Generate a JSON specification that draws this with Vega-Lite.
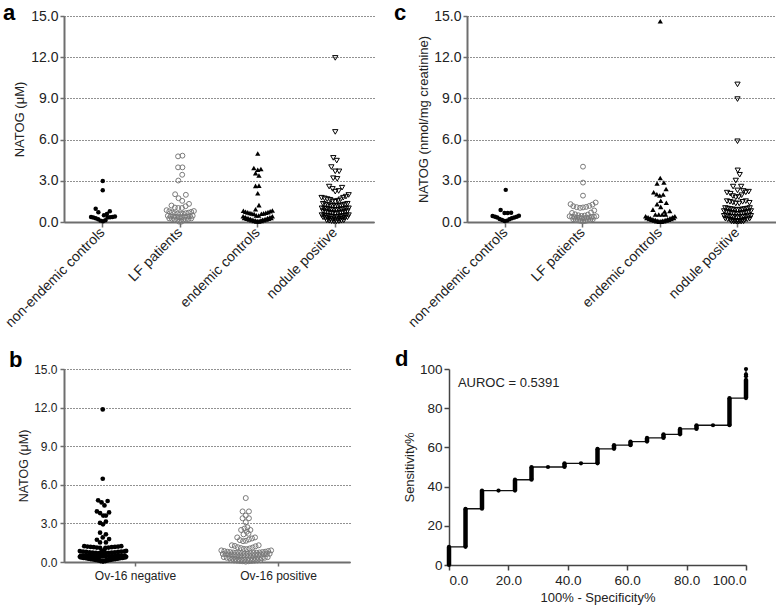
{
"$schema":"https://vega.github.io/schema/vega-lite/v6.json",
"padding":{"left":2,"top":2,"right":0,"bottom":0},
"config":{"font":"Liberation Sans","view":{"stroke":null},"title":{"font":"Liberation Sans","fontSize":22,"fontWeight":"bold","color":"black","anchor":"start","frame":"group","baseline":"alphabetic"}},
"datasets":{
"a1":[{"v":2.98,"s":0},{"v":2.31,"s":0},{"v":0.96,"s":-2.9},{"v":0.71,"s":-1.8},{"v":0.49,"s":0.5},{"v":0.59,"s":1.7},{"v":0.79,"s":2.9},{"v":0.37,"s":-4.8},{"v":0.32,"s":-3.9},{"v":0.27,"s":-2.9},{"v":0.2,"s":-1.9},{"v":0.1,"s":-0.9},{"v":0.05,"s":0.1},{"v":0.12,"s":1.1},{"v":0.32,"s":2},{"v":0.34,"s":3},{"v":0.37,"s":4},{"v":0.4,"s":5}],
"a2":[{"v":4.78,"s":-0.9},{"v":4.83,"s":0.9},{"v":3.98,"s":-0.9},{"v":3.98,"s":0.9},{"v":3.44,"s":0.8},{"v":3.02,"s":-0.8},{"v":2.02,"s":-2.1},{"v":1.73,"s":-0.7},{"v":1.54,"s":0.8},{"v":1.98,"s":2.3},{"v":1.32,"s":3.6},{"v":1.2,"s":-3.6},{"v":1.05,"s":-2.2},{"v":1.02,"s":-0.8},{"v":1.02,"s":0.7},{"v":1.15,"s":2.2},{"v":0.86,"s":-5.6},{"v":0.78,"s":-4.5},{"v":0.7,"s":-3.4},{"v":0.64,"s":-2.3},{"v":0.6,"s":-1.1},{"v":0.58,"s":0},{"v":0.6,"s":1.1},{"v":0.64,"s":2.3},{"v":0.68,"s":3.4},{"v":0.74,"s":4.5},{"v":0.8,"s":5.6},{"v":0.45,"s":-5.1},{"v":0.42,"s":-4},{"v":0.4,"s":-2.9},{"v":0.38,"s":-1.8},{"v":0.36,"s":-0.6},{"v":0.36,"s":0.6},{"v":0.38,"s":1.8},{"v":0.4,"s":2.9},{"v":0.42,"s":4},{"v":0.45,"s":5.1},{"v":0.26,"s":-4.5},{"v":0.22,"s":-3.4},{"v":0.18,"s":-2.3},{"v":0.15,"s":-1.2},{"v":0.12,"s":0},{"v":0.15,"s":1.2},{"v":0.18,"s":2.3},{"v":0.22,"s":3.4},{"v":0.26,"s":4.5},{"v":0.03,"s":-0.5},{"v":0.03,"s":0.5}],
"a3":[{"v":4.99,"s":0},{"v":3.93,"s":-1.6},{"v":3.8,"s":0},{"v":3.86,"s":1.3},{"v":3.56,"s":-0.9},{"v":3.39,"s":0.5},{"v":2.63,"s":-0.9},{"v":2.65,"s":0.5},{"v":2.09,"s":0},{"v":1.23,"s":0.5},{"v":0.93,"s":-0.9},{"v":0.82,"s":-5.9},{"v":0.75,"s":-5},{"v":0.7,"s":-4.1},{"v":0.66,"s":-3.2},{"v":0.62,"s":-2.4},{"v":0.58,"s":-1.5},{"v":0.6,"s":1.5},{"v":0.63,"s":2.4},{"v":0.67,"s":3.3},{"v":0.72,"s":4.2},{"v":0.78,"s":5.1},{"v":0.84,"s":6},{"v":0.48,"s":-0.6},{"v":0.47,"s":0.4},{"v":0.42,"s":-6},{"v":0.35,"s":-5},{"v":0.28,"s":-4},{"v":0.22,"s":-3},{"v":0.16,"s":-2},{"v":0.11,"s":-1},{"v":0.07,"s":0},{"v":0.11,"s":1},{"v":0.16,"s":2},{"v":0.22,"s":3},{"v":0.28,"s":4},{"v":0.35,"s":5},{"v":0.42,"s":6},{"v":0.3,"s":-5.5},{"v":0.24,"s":-4.5},{"v":0.18,"s":-3.5},{"v":0.13,"s":-2.5},{"v":0.08,"s":-1.5},{"v":0.04,"s":-0.5},{"v":0.04,"s":0.5},{"v":0.08,"s":1.5},{"v":0.13,"s":2.5},{"v":0.18,"s":3.5},{"v":0.24,"s":4.5},{"v":0.3,"s":5.5}],
"a4":[{"v":11.95,"s":0},{"v":6.56,"s":0},{"v":4.67,"s":-0.8},{"v":4.47,"s":0.6},{"v":4.0,"s":-1.6},{"v":3.69,"s":0},{"v":3.69,"s":1.6},{"v":3.19,"s":-0.8},{"v":3.14,"s":0.8},{"v":2.58,"s":-2.5},{"v":2.41,"s":-1.1},{"v":2.21,"s":0},{"v":2.26,"s":1.4},{"v":2.5,"s":2.8},{"v":1.77,"s":-5.6},{"v":1.72,"s":-4.4},{"v":1.67,"s":-3.3},{"v":1.62,"s":-2.1},{"v":1.52,"s":-1.1},{"v":1.47,"s":0},{"v":1.55,"s":1.1},{"v":1.65,"s":2.2},{"v":1.77,"s":3.3},{"v":1.85,"s":4.4},{"v":1.97,"s":5.5},{"v":1.33,"s":-5},{"v":1.28,"s":-4},{"v":1.24,"s":-3},{"v":1.2,"s":-2},{"v":1.17,"s":-1},{"v":1.15,"s":0},{"v":1.17,"s":1},{"v":1.2,"s":2},{"v":1.24,"s":3},{"v":1.28,"s":4},{"v":1.33,"s":5},{"v":1.0,"s":-5.5},{"v":0.97,"s":-4.5},{"v":0.94,"s":-3.5},{"v":0.92,"s":-2.5},{"v":0.9,"s":-1.5},{"v":0.88,"s":-0.5},{"v":0.88,"s":0.5},{"v":0.9,"s":1.5},{"v":0.92,"s":2.5},{"v":0.94,"s":3.5},{"v":0.97,"s":4.5},{"v":1.0,"s":5.5},{"v":0.8,"s":-5},{"v":0.76,"s":-4},{"v":0.72,"s":-3},{"v":0.68,"s":-2},{"v":0.65,"s":-1},{"v":0.62,"s":0},{"v":0.65,"s":1},{"v":0.68,"s":2},{"v":0.72,"s":3},{"v":0.76,"s":4},{"v":0.8,"s":5},{"v":0.5,"s":-5.5},{"v":0.47,"s":-4.5},{"v":0.44,"s":-3.5},{"v":0.42,"s":-2.5},{"v":0.4,"s":-1.5},{"v":0.38,"s":-0.5},{"v":0.38,"s":0.5},{"v":0.4,"s":1.5},{"v":0.42,"s":2.5},{"v":0.44,"s":3.5},{"v":0.47,"s":4.5},{"v":0.5,"s":5.5},{"v":0.34,"s":-5},{"v":0.3,"s":-4},{"v":0.26,"s":-3},{"v":0.23,"s":-2},{"v":0.2,"s":-1},{"v":0.18,"s":0},{"v":0.2,"s":1},{"v":0.23,"s":2},{"v":0.26,"s":3},{"v":0.3,"s":4},{"v":0.34,"s":5},{"v":0.12,"s":-3.5},{"v":0.09,"s":-2.5},{"v":0.06,"s":-1.5},{"v":0.04,"s":-0.5},{"v":0.04,"s":0.5},{"v":0.06,"s":1.5},{"v":0.09,"s":2.5},{"v":0.12,"s":3.5}],
"c1":[{"v":2.34,"s":0},{"v":0.88,"s":-2.1},{"v":0.66,"s":-0.5},{"v":0.66,"s":0.8},{"v":0.68,"s":2.2},{"v":0.44,"s":-5.4},{"v":0.39,"s":-4.4},{"v":0.32,"s":-3.5},{"v":0.22,"s":-2.5},{"v":0.15,"s":-1.5},{"v":0.07,"s":-0.5},{"v":0.1,"s":0.5},{"v":0.2,"s":1.5},{"v":0.27,"s":2.5},{"v":0.32,"s":3.5},{"v":0.39,"s":4.5},{"v":0.46,"s":5.4}],
"c2":[{"v":4.03,"s":0},{"v":2.87,"s":0},{"v":1.92,"s":0},{"v":1.3,"s":-5.1},{"v":1.15,"s":-4},{"v":1.08,"s":-2.6},{"v":1.03,"s":-1.2},{"v":1.06,"s":0},{"v":1.1,"s":1.3},{"v":1.17,"s":2.6},{"v":1.27,"s":3.9},{"v":1.42,"s":5.2},{"v":0.66,"s":-4.5},{"v":0.56,"s":-3.2},{"v":0.49,"s":-1.9},{"v":0.44,"s":-0.6},{"v":0.47,"s":0.7},{"v":0.54,"s":2},{"v":0.69,"s":3.3},{"v":0.84,"s":4.6},{"v":0.42,"s":-5.5},{"v":0.38,"s":-4.5},{"v":0.35,"s":-3.5},{"v":0.32,"s":-2.5},{"v":0.3,"s":-1.5},{"v":0.28,"s":-0.5},{"v":0.28,"s":0.5},{"v":0.3,"s":1.5},{"v":0.32,"s":2.5},{"v":0.35,"s":3.5},{"v":0.38,"s":4.5},{"v":0.42,"s":5.5},{"v":0.2,"s":-4},{"v":0.16,"s":-3},{"v":0.12,"s":-2},{"v":0.08,"s":-1},{"v":0.05,"s":0},{"v":0.08,"s":1},{"v":0.12,"s":2},{"v":0.16,"s":3},{"v":0.2,"s":4}],
"c3":[{"v":14.62,"s":0},{"v":3.2,"s":0},{"v":2.8,"s":-1.3},{"v":2.88,"s":1.5},{"v":2.17,"s":-2.7},{"v":2.02,"s":-1.4},{"v":1.93,"s":-0.2},{"v":2.0,"s":1.2},{"v":2.4,"s":2.4},{"v":1.55,"s":0.2},{"v":1.4,"s":2.5},{"v":1.3,"s":-1.3},{"v":1.1,"s":0.2},{"v":0.9,"s":-3},{"v":0.76,"s":1.8},{"v":0.8,"s":3.9},{"v":0.55,"s":-2},{"v":0.55,"s":-0.6},{"v":0.55,"s":0.8},{"v":0.55,"s":2.2},{"v":0.42,"s":-6},{"v":0.34,"s":-5},{"v":0.27,"s":-4},{"v":0.2,"s":-3},{"v":0.14,"s":-2},{"v":0.09,"s":-1},{"v":0.06,"s":0},{"v":0.09,"s":1},{"v":0.14,"s":2},{"v":0.2,"s":3},{"v":0.27,"s":4},{"v":0.34,"s":5},{"v":0.42,"s":6},{"v":0.3,"s":-5.5},{"v":0.23,"s":-4.5},{"v":0.16,"s":-3.5},{"v":0.11,"s":-2.5},{"v":0.06,"s":-1.5},{"v":0.03,"s":-0.5},{"v":0.03,"s":0.5},{"v":0.06,"s":1.5},{"v":0.11,"s":2.5},{"v":0.16,"s":3.5},{"v":0.23,"s":4.5},{"v":0.3,"s":5.5}],
"c4":[{"v":10.02,"s":0},{"v":8.95,"s":0},{"v":5.88,"s":0},{"v":3.76,"s":0.1},{"v":3.44,"s":0.9},{"v":3.02,"s":-0.7},{"v":2.58,"s":-1.8},{"v":2.58,"s":1.5},{"v":2.3,"s":0},{"v":2.14,"s":-4.3},{"v":2.06,"s":-2.9},{"v":1.89,"s":-1.9},{"v":1.8,"s":-0.7},{"v":1.82,"s":0.5},{"v":1.95,"s":1.7},{"v":2.26,"s":2.4},{"v":2.16,"s":3.4},{"v":2.21,"s":4.6},{"v":1.52,"s":-4.3},{"v":1.47,"s":-3.1},{"v":1.42,"s":-1.9},{"v":1.35,"s":-0.7},{"v":1.35,"s":0.7},{"v":1.47,"s":2.1},{"v":1.52,"s":3.4},{"v":1.4,"s":4.9},{"v":1.02,"s":-5},{"v":0.98,"s":-4},{"v":0.95,"s":-3},{"v":0.92,"s":-2},{"v":0.9,"s":-1},{"v":0.88,"s":0},{"v":0.9,"s":1},{"v":0.92,"s":2},{"v":0.95,"s":3},{"v":0.98,"s":4},{"v":1.02,"s":5},{"v":0.8,"s":-5.5},{"v":0.76,"s":-4.5},{"v":0.72,"s":-3.5},{"v":0.68,"s":-2.5},{"v":0.64,"s":-1.5},{"v":0.6,"s":-0.5},{"v":0.6,"s":0.5},{"v":0.64,"s":1.5},{"v":0.68,"s":2.5},{"v":0.72,"s":3.5},{"v":0.76,"s":4.5},{"v":0.8,"s":5.5},{"v":0.45,"s":-5.5},{"v":0.42,"s":-4.5},{"v":0.4,"s":-3.5},{"v":0.38,"s":-2.5},{"v":0.36,"s":-1.5},{"v":0.35,"s":-0.5},{"v":0.35,"s":0.5},{"v":0.36,"s":1.5},{"v":0.38,"s":2.5},{"v":0.4,"s":3.5},{"v":0.42,"s":4.5},{"v":0.45,"s":5.5},{"v":0.25,"s":-5},{"v":0.2,"s":-4},{"v":0.16,"s":-3},{"v":0.12,"s":-2},{"v":0.09,"s":-1},{"v":0.07,"s":0},{"v":0.09,"s":1},{"v":0.12,"s":2},{"v":0.16,"s":3},{"v":0.2,"s":4},{"v":0.25,"s":5},{"v":0.05,"s":-2.5},{"v":0.03,"s":-1.5},{"v":0.02,"s":-0.5},{"v":0.02,"s":0.5},{"v":0.03,"s":1.5},{"v":0.05,"s":2.5}],
"bn":[{"v":11.86,"s":0},{"v":6.47,"s":0},{"v":4.79,"s":-1.9},{"v":4.63,"s":-0.5},{"v":4.4,"s":0.7},{"v":4.74,"s":2},{"v":3.93,"s":-2.4},{"v":3.8,"s":-1.1},{"v":3.61,"s":0.2},{"v":3.61,"s":1.3},{"v":3.85,"s":2.6},{"v":3.04,"s":-1.1},{"v":2.93,"s":0.1},{"v":3.14,"s":1.3},{"v":2.28,"s":-1.1},{"v":2.15,"s":1.3},{"v":1.73,"s":-2.4},{"v":1.52,"s":-1.1},{"v":1.91,"s":0},{"v":1.52,"s":1.3},{"v":1.78,"s":2.6},{"v":1.23,"s":-7.6},{"v":1.2,"s":-6.3},{"v":1.17,"s":-5},{"v":1.15,"s":-3.7},{"v":1.12,"s":-2.4},{"v":1.1,"s":-1.1},{"v":1.1,"s":1.1},{"v":1.12,"s":2.4},{"v":1.15,"s":3.7},{"v":1.17,"s":5},{"v":1.2,"s":6.3},{"v":1.23,"s":7.6},{"v":0.88,"s":-0.4},{"v":0.95,"s":0.7},{"v":0.85,"s":-9.4},{"v":0.8,"s":-8.1},{"v":0.78,"s":-6.8},{"v":0.76,"s":-5.4},{"v":0.74,"s":-4.1},{"v":0.72,"s":-2.8},{"v":0.7,"s":-1.5},{"v":0.68,"s":-0.2},{"v":0.7,"s":1.1},{"v":0.72,"s":2.4},{"v":0.74,"s":3.7},{"v":0.76,"s":5},{"v":0.78,"s":6.3},{"v":0.8,"s":7.6},{"v":0.82,"s":8.9},{"v":0.86,"s":9.6},{"v":0.5,"s":-9},{"v":0.5,"s":-7.7},{"v":0.49,"s":-6.4},{"v":0.48,"s":-5.1},{"v":0.47,"s":-3.8},{"v":0.46,"s":-2.5},{"v":0.45,"s":-1.2},{"v":0.45,"s":0},{"v":0.45,"s":1.2},{"v":0.46,"s":2.5},{"v":0.47,"s":3.8},{"v":0.48,"s":5.1},{"v":0.49,"s":6.4},{"v":0.5,"s":7.7},{"v":0.5,"s":9},{"v":0.4,"s":-9.4},{"v":0.37,"s":-8.4},{"v":0.34,"s":-7.4},{"v":0.31,"s":-6.4},{"v":0.28,"s":-5.4},{"v":0.25,"s":-4.4},{"v":0.22,"s":-3.4},{"v":0.18,"s":-2.4},{"v":0.14,"s":-1.4},{"v":0.1,"s":-0.4},{"v":0.1,"s":0.6},{"v":0.14,"s":1.6},{"v":0.18,"s":2.6},{"v":0.22,"s":3.6},{"v":0.25,"s":4.6},{"v":0.28,"s":5.6},{"v":0.31,"s":6.6},{"v":0.34,"s":7.6},{"v":0.37,"s":8.6},{"v":0.4,"s":9.6},{"v":0.35,"s":-8.9},{"v":0.32,"s":-7.9},{"v":0.29,"s":-6.9},{"v":0.26,"s":-5.9},{"v":0.23,"s":-4.9},{"v":0.2,"s":-3.9},{"v":0.16,"s":-2.9},{"v":0.12,"s":-1.9},{"v":0.07,"s":-0.9},{"v":0.03,"s":0.1},{"v":0.07,"s":1.1},{"v":0.12,"s":2.1},{"v":0.16,"s":3.1},{"v":0.2,"s":4.1},{"v":0.23,"s":5.1},{"v":0.26,"s":6.1},{"v":0.29,"s":7.1},{"v":0.32,"s":8.1},{"v":0.35,"s":9.1}],
"bp":[{"v":4.97,"s":0},{"v":3.93,"s":-1.3},{"v":3.93,"s":1.3},{"v":3.61,"s":0},{"v":3.4,"s":-1.3},{"v":3.4,"s":1.3},{"v":3.09,"s":0},{"v":2.49,"s":-1.9},{"v":2.6,"s":-0.5},{"v":2.7,"s":0.7},{"v":2.49,"s":1.9},{"v":2.15,"s":-0.9},{"v":2.35,"s":0.4},{"v":2.2,"s":1.1},{"v":1.91,"s":-3.5},{"v":1.7,"s":-2.4},{"v":1.62,"s":-1.1},{"v":1.65,"s":0.1},{"v":1.75,"s":1.3},{"v":1.83,"s":2.6},{"v":1.91,"s":3.8},{"v":1.3,"s":-5.7},{"v":1.25,"s":-4.5},{"v":1.15,"s":-3.3},{"v":1.08,"s":-2},{"v":1.02,"s":-0.8},{"v":1.0,"s":0.4},{"v":1.05,"s":1.6},{"v":1.12,"s":2.8},{"v":1.22,"s":4},{"v":1.3,"s":5.3},{"v":0.9,"s":-10},{"v":0.85,"s":-8.8},{"v":0.8,"s":-7.6},{"v":0.77,"s":-6.4},{"v":0.74,"s":-5.2},{"v":0.72,"s":-4},{"v":0.7,"s":-2.8},{"v":0.68,"s":-1.6},{"v":0.66,"s":-0.4},{"v":0.66,"s":0.8},{"v":0.68,"s":2},{"v":0.7,"s":3.2},{"v":0.72,"s":4.4},{"v":0.74,"s":5.6},{"v":0.77,"s":6.8},{"v":0.8,"s":8},{"v":0.85,"s":9.2},{"v":0.9,"s":10.4},{"v":0.62,"s":-9.4},{"v":0.6,"s":-8.2},{"v":0.58,"s":-7},{"v":0.56,"s":-5.8},{"v":0.54,"s":-4.6},{"v":0.52,"s":-3.4},{"v":0.5,"s":-2.2},{"v":0.5,"s":-1},{"v":0.5,"s":0.2},{"v":0.5,"s":1.4},{"v":0.52,"s":2.6},{"v":0.54,"s":3.8},{"v":0.56,"s":5},{"v":0.58,"s":6.2},{"v":0.6,"s":7.4},{"v":0.62,"s":8.6},{"v":0.64,"s":9.8},{"v":0.38,"s":-9},{"v":0.33,"s":-7.8},{"v":0.3,"s":-6.6},{"v":0.27,"s":-5.4},{"v":0.25,"s":-4.2},{"v":0.22,"s":-3},{"v":0.2,"s":-1.8},{"v":0.18,"s":-0.6},{"v":0.18,"s":0.6},{"v":0.2,"s":1.8},{"v":0.22,"s":3},{"v":0.25,"s":4.2},{"v":0.27,"s":5.4},{"v":0.3,"s":6.6},{"v":0.33,"s":7.8},{"v":0.38,"s":9},{"v":0.14,"s":-6},{"v":0.12,"s":-4.8},{"v":0.1,"s":-3.6},{"v":0.08,"s":-2.4},{"v":0.06,"s":-1.2},{"v":0.03,"s":0},{"v":0.06,"s":1.2},{"v":0.08,"s":2.4},{"v":0.1,"s":3.6},{"v":0.12,"s":4.8},{"v":0.14,"s":6}],
"roc":[{"i":1,"x":0,"y":0},{"i":2,"x":0,"y":9.26},{"i":3,"x":5.56,"y":9.26},{"i":4,"x":5.56,"y":28.7},{"i":5,"x":11.11,"y":28.7},{"i":6,"x":11.11,"y":37.96},{"i":7,"x":16.67,"y":37.96},{"i":8,"x":22.22,"y":37.96},{"i":9,"x":22.22,"y":43.5},{"i":10,"x":27.78,"y":43.5},{"i":11,"x":27.78,"y":50},{"i":12,"x":33.33,"y":50},{"i":13,"x":38.89,"y":50},{"i":14,"x":38.89,"y":51.85},{"i":15,"x":44.44,"y":51.85},{"i":16,"x":50,"y":51.85},{"i":17,"x":50,"y":59.26},{"i":18,"x":55.56,"y":59.26},{"i":19,"x":55.56,"y":61.11},{"i":20,"x":61.11,"y":61.11},{"i":21,"x":61.11,"y":62.96},{"i":22,"x":66.67,"y":62.96},{"i":23,"x":66.67,"y":64.81},{"i":24,"x":72.22,"y":64.81},{"i":25,"x":72.22,"y":66.67},{"i":26,"x":77.78,"y":66.67},{"i":27,"x":77.78,"y":69.44},{"i":28,"x":83.33,"y":69.44},{"i":29,"x":83.33,"y":71.3},{"i":30,"x":88.89,"y":71.3},{"i":31,"x":94.44,"y":71.3},{"i":32,"x":94.44,"y":85.19},{"i":33,"x":100,"y":85.19},{"i":34,"x":100,"y":94.5},{"i":35,"x":100,"y":96.3},{"i":36,"x":100,"y":97.2},{"i":37,"x":100,"y":100}],
"steps":[{"x":0,"y":0,"y2":9.26},{"x":5.56,"y":9.26,"y2":28.7},{"x":11.11,"y":28.7,"y2":37.96},{"x":22.22,"y":37.96,"y2":43.5},{"x":27.78,"y":43.5,"y2":50},{"x":38.89,"y":50,"y2":51.85},{"x":50,"y":51.85,"y2":59.26},{"x":55.56,"y":59.26,"y2":61.11},{"x":61.11,"y":61.11,"y2":62.96},{"x":66.67,"y":62.96,"y2":64.81},{"x":72.22,"y":64.81,"y2":66.67},{"x":77.78,"y":66.67,"y2":69.44},{"x":83.33,"y":69.44,"y2":71.3},{"x":94.44,"y":71.3,"y2":85.19},{"x":100,"y":85.19,"y2":94.5}]
},
"spacing":18,
"vconcat":[
{"spacing":20,"hconcat":[
{"width":310,"height":206,"title":{"text":"a","dx":-61,"offset":-16},
"layer":[
{"data":{"name":"a1"},"mark":{"type":"point","shape":"circle","filled":true,"color":"black","size":20,"opacity":1},
"encoding":{"x":{"datum":"non-endemic controls","type":"nominal","scale":{"domain":["non-endemic controls","LF patients","endemic controls","nodule positive"],"paddingInner":0,"paddingOuter":0},"axis":{"title":null,"labelAngle":-45,"labelAlign":"right","labelBaseline":"middle","labelFontSize":14,"labelColor":"#222","labelPadding":3,"domainColor":"#6e6e6e","domainWidth":2,"tickColor":"#6e6e6e","tickWidth":1.5,"tickSize":5,"grid":false}},
"xOffset":{"field":"s","type":"quantitative","scale":{"domain":[-9,9]}},
"y":{"field":"v","type":"quantitative","scale":{"domain":[0,15],"nice":false},"axis":{"values":[0,3,6,9,12,15],"tickCount":12,"labelOverlap":false,"format":".1f","grid":true,"gridDash":[1,2],"gridColor":"#222","gridWidth":1,"domainColor":"#6e6e6e","domainWidth":2,"tickColor":"#6e6e6e","tickWidth":1.5,"tickSize":4,"labelFontSize":14,"labelColor":"#222","labelPadding":2,"titleFontSize":13,"titleFontWeight":"normal","titleColor":"#222","titlePadding":4,"title":"NATOG (μM)"}}}},
{"data":{"name":"a2"},"mark":{"type":"point","shape":"circle","filled":false,"color":"#7a7a7a","size":24,"strokeWidth":1,"opacity":1},
"encoding":{"x":{"datum":"LF patients","type":"nominal"},"xOffset":{"field":"s","type":"quantitative"},"y":{"field":"v","type":"quantitative"}}},
{"data":{"name":"a3"},"mark":{"type":"point","shape":"triangle-up","filled":true,"color":"black","size":28,"opacity":1},
"encoding":{"x":{"datum":"endemic controls","type":"nominal"},"xOffset":{"field":"s","type":"quantitative"},"y":{"field":"v","type":"quantitative"}}},
{"data":{"name":"a4"},"mark":{"type":"point","shape":"triangle-down","filled":false,"color":"black","size":28,"strokeWidth":1,"opacity":1},
"encoding":{"x":{"datum":"nodule positive","type":"nominal"},"xOffset":{"field":"s","type":"quantitative"},"y":{"field":"v","type":"quantitative"}}}
]},
{"width":309,"height":206,"title":{"text":"c","dx":-73,"offset":-16},
"layer":[
{"data":{"name":"c1"},"mark":{"type":"point","shape":"circle","filled":true,"color":"black","size":20,"opacity":1},
"encoding":{"x":{"datum":"non-endemic controls","type":"nominal","scale":{"domain":["non-endemic controls","LF patients","endemic controls","nodule positive"],"paddingInner":0,"paddingOuter":0},"axis":{"title":null,"labelAngle":-45,"labelAlign":"right","labelBaseline":"middle","labelFontSize":14,"labelColor":"#222","labelPadding":3,"domainColor":"#6e6e6e","domainWidth":2,"tickColor":"#6e6e6e","tickWidth":1.5,"tickSize":5,"grid":false}},
"xOffset":{"field":"s","type":"quantitative","scale":{"domain":[-9,9]}},
"y":{"field":"v","type":"quantitative","scale":{"domain":[0,15],"nice":false},"axis":{"values":[0,3,6,9,12,15],"tickCount":12,"labelOverlap":false,"format":".1f","grid":true,"gridDash":[1,2],"gridColor":"#222","gridWidth":1,"domainColor":"#6e6e6e","domainWidth":2,"tickColor":"#6e6e6e","tickWidth":1.5,"tickSize":4,"labelFontSize":14,"labelColor":"#222","labelPadding":2,"titleFontSize":13,"titleFontWeight":"normal","titleColor":"#222","titlePadding":3,"title":"NATOG (nmol/mg creatinine)"}}}},
{"data":{"name":"c2"},"mark":{"type":"point","shape":"circle","filled":false,"color":"#7a7a7a","size":24,"strokeWidth":1,"opacity":1},
"encoding":{"x":{"datum":"LF patients","type":"nominal"},"xOffset":{"field":"s","type":"quantitative"},"y":{"field":"v","type":"quantitative"}}},
{"data":{"name":"c3"},"mark":{"type":"point","shape":"triangle-up","filled":true,"color":"black","size":28,"opacity":1},
"encoding":{"x":{"datum":"endemic controls","type":"nominal"},"xOffset":{"field":"s","type":"quantitative"},"y":{"field":"v","type":"quantitative"}}},
{"data":{"name":"c4"},"mark":{"type":"point","shape":"triangle-down","filled":false,"color":"black","size":28,"strokeWidth":1,"opacity":1},
"encoding":{"x":{"datum":"nodule positive","type":"nominal"},"xOffset":{"field":"s","type":"quantitative"},"y":{"field":"v","type":"quantitative"}}}
]}
]},
{"spacing":45,"hconcat":[
{"width":286,"height":193,"title":{"text":"b","dx":-55,"offset":-9},
"layer":[
{"data":{"name":"bn"},"mark":{"type":"point","shape":"circle","filled":true,"color":"black","size":22,"opacity":1},
"encoding":{"x":{"datum":"Ov-16 negative","type":"nominal","scale":{"domain":["Ov-16 negative","Ov-16 positive"],"paddingInner":0,"paddingOuter":0},"axis":{"title":null,"labelAngle":0,"labelFontSize":12,"labelColor":"#222","labelPadding":4,"domainColor":"#6e6e6e","domainWidth":2,"tickColor":"#6e6e6e","tickWidth":1.5,"tickSize":4,"grid":false}},
"xOffset":{"field":"s","type":"quantitative","scale":{"domain":[-15.9,15.9]}},
"y":{"field":"v","type":"quantitative","scale":{"domain":[0,15],"nice":false},"axis":{"values":[0,3,6,9,12,15],"tickCount":12,"labelOverlap":false,"format":".1f","grid":true,"gridDash":[1,2],"gridColor":"#222","gridWidth":1,"domainColor":"#6e6e6e","domainWidth":2,"tickColor":"#6e6e6e","tickWidth":1.5,"tickSize":4,"labelFontSize":12,"labelColor":"#222","labelPadding":3,"titleFontSize":12.5,"titleFontWeight":"normal","titleColor":"#222","titlePadding":3,"title":"NATOG (μM)"}}}},
{"data":{"name":"bp"},"mark":{"type":"point","shape":"circle","filled":false,"color":"#7a7a7a","size":25,"strokeWidth":1,"opacity":1},
"encoding":{"x":{"datum":"Ov-16 positive","type":"nominal"},"xOffset":{"field":"s","type":"quantitative"},"y":{"field":"v","type":"quantitative"}}}
]},
{"width":297,"height":196,"title":{"text":"d","dx":-54,"offset":-9},
"layer":[
{"data":{"name":"roc"},"mark":{"type":"line","color":"#111","strokeWidth":1.3},
"encoding":{"x":{"field":"x","type":"quantitative","scale":{"domain":[0,100],"nice":false},"axis":{"values":[0,20,40,60,80,100],"tickCount":12,"labelOverlap":false,"format":".1f","title":"100% - Specificity%","grid":false,"labelFontSize":13.5,"labelColor":"#222","labelPadding":3,"domainColor":"#444","domainWidth":1.5,"tickColor":"#444","tickWidth":1.5,"tickSize":5,"titleFontSize":13,"titleFontWeight":"normal","titleColor":"#222","titlePadding":5}},
"y":{"field":"y","type":"quantitative","scale":{"domain":[0,100],"nice":false},"axis":{"values":[0,20,40,60,80,100],"tickCount":12,"labelOverlap":false,"format":"d","title":"Sensitivity%","grid":false,"labelFontSize":13.5,"labelColor":"#222","labelPadding":2,"domainColor":"#444","domainWidth":1.5,"tickColor":"#444","tickWidth":1.5,"tickSize":5,"titleFontSize":13,"titleFontWeight":"normal","titleColor":"#222","titlePadding":3}},
"order":{"field":"i","type":"quantitative"}}},
{"data":{"name":"steps"},"mark":{"type":"rule","color":"black","strokeWidth":4.5},
"encoding":{"x":{"field":"x","type":"quantitative"},"y":{"field":"y","type":"quantitative"},"y2":{"field":"y2"}}},
{"data":{"name":"roc"},"mark":{"type":"point","shape":"circle","filled":true,"color":"black","size":18,"opacity":1},
"encoding":{"x":{"field":"x","type":"quantitative"},"y":{"field":"y","type":"quantitative"}}},
{"data":{"values":[{"x":3,"y":91,"t":"AUROC = 0.5391"}]},"mark":{"type":"text","align":"left","baseline":"alphabetic","fontSize":13,"color":"#222"},
"encoding":{"x":{"field":"x","type":"quantitative"},"y":{"field":"y","type":"quantitative"},"text":{"field":"t"}}}
]}
]}
]
}
